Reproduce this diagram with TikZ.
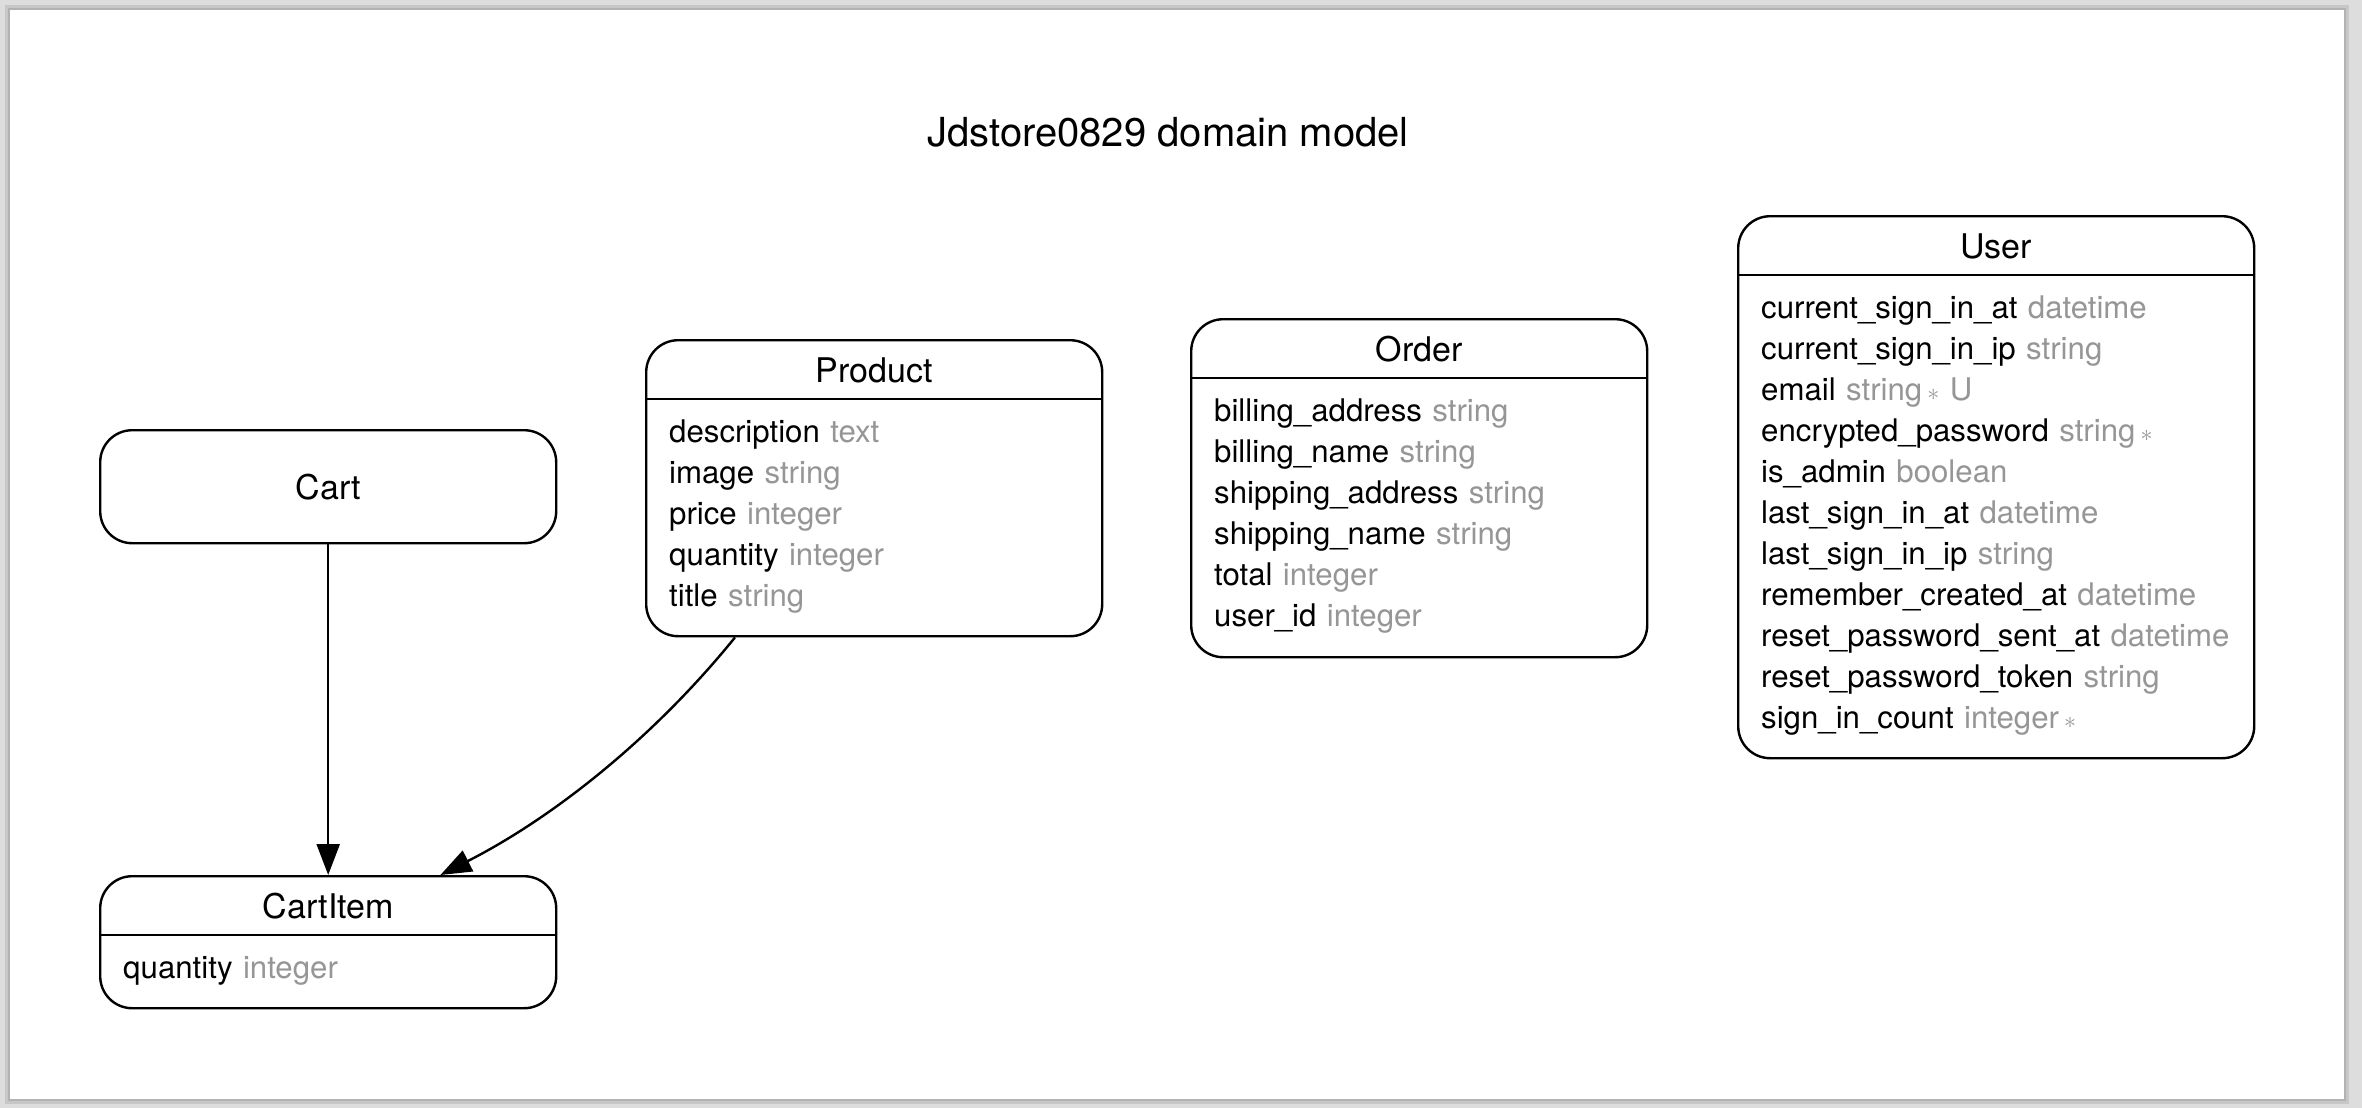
\documentclass[tikz,border=0pt]{standalone}
\usepackage{fontspec}
\setmainfont{TeX Gyre Heros}
\usetikzlibrary{positioning, arrows.meta}

\definecolor{typegray}{RGB}{150,150,150}
\definecolor{deskgray}{RGB}{221,221,221}
\definecolor{shadegray}{RGB}{178,178,178}

\newcommand{\attrtype}[1]{\textcolor{typegray}{#1}}
\newcommand{\notnull}{\textcolor{typegray}{\,{\fontsize{13}{13}\selectfont$\ast$}}}

\begin{document}
\begin{tikzpicture}[x = 0.5pt, y = -0.5pt, line width = 1.2pt, >={Triangle[length = 15.5pt, width = 11.5pt]},
    entity/.style = { draw, rounded corners = 16pt, anchor = north west, minimum width = 228pt },
    entityname/.style = { anchor = base, inner sep = 0pt, font = \fontsize{17}{20}\selectfont },
    attrs/.style = { anchor = base west, inner sep = 0pt, text width = 240pt, align = left, font = \fontsize{15.6}{20.5}\selectfont }]
    % page
    \fill[deskgray] (0, 0) rectangle (2362, 1108);
    \fill[shadegray!50!deskgray] (5, 5) rectangle (2349, 1104);
    \fill[shadegray] (8, 8) rectangle (2346, 1101);
    \fill[white] (10, 10) rectangle (2344, 1099);
    \useasboundingbox (0, 0) rectangle (2362, 1108);

    \node[anchor = base, font = \fontsize{20}{24}\selectfont] (title) at (1168, 146) {Jdstore0829 domain model};

    \node[entity, minimum height = 56.5pt, font = \fontsize{17}{20}\selectfont] (cart) at (99, 429) {Cart};
    \node[entity, minimum height = 66pt] (cartitem) at (99, 875) {};
    \node[entity, minimum height = 148pt] (product) at (645, 339) {};
    \node[entity, minimum height = 169pt] (order) at (1190, 318) {};
    \node[entity, minimum height = 271pt, minimum width = 258pt] (user) at (1737, 215) {};

    \node[entityname] (cartitem-name) at ([yshift = -21.5pt] cartitem.north) {CartItem};
    \draw ([yshift = -30pt] cartitem.north west) -- ([yshift = -30pt] cartitem.north east);
    \node[attrs] (cartitem-attrs) at ([xshift = 11.5pt, yshift = -51.5pt] cartitem.north west) {quantity \attrtype{integer}};

    \node[entityname] (product-name) at ([yshift = -21.5pt] product.north) {Product};
    \draw ([yshift = -30pt] product.north west) -- ([yshift = -30pt] product.north east);
    \node[attrs] (product-attrs) at ([xshift = 11.5pt, yshift = -51.5pt] product.north west) {description \attrtype{text}\\ image \attrtype{string}\\ price \attrtype{integer}\\ quantity \attrtype{integer}\\ title \attrtype{string}};

    \node[entityname] (order-name) at ([yshift = -21.5pt] order.north) {Order};
    \draw ([yshift = -30pt] order.north west) -- ([yshift = -30pt] order.north east);
    \node[attrs] (order-attrs) at ([xshift = 11.5pt, yshift = -51.5pt] order.north west) {billing\_address \attrtype{string}\\ billing\_name \attrtype{string}\\ shipping\_address \attrtype{string}\\ shipping\_name \attrtype{string}\\ total \attrtype{integer}\\ user\_id \attrtype{integer}};

    \node[entityname] (user-name) at ([yshift = -21.5pt] user.north) {User};
    \draw ([yshift = -30pt] user.north west) -- ([yshift = -30pt] user.north east);
    \node[attrs] (user-attrs) at ([xshift = 11.5pt, yshift = -51.5pt] user.north west) {current\_sign\_in\_at \attrtype{datetime}\\ current\_sign\_in\_ip \attrtype{string}\\ email \attrtype{string}\notnull{} \attrtype{U}\\ encrypted\_password \attrtype{string}\notnull\\ is\_admin \attrtype{boolean}\\ last\_sign\_in\_at \attrtype{datetime}\\ last\_sign\_in\_ip \attrtype{string}\\ remember\_created\_at \attrtype{datetime}\\ reset\_password\_sent\_at \attrtype{datetime}\\ reset\_password\_token \attrtype{string}\\ sign\_in\_count \attrtype{integer}\notnull};

    \draw[->] (cart) -- (cartitem);
    \draw[->] ([xshift = 45pt] product.south west) .. controls +(-80.5, 99.5) and +(114, -58) .. ([xshift = -58.5pt] cartitem.north east);
\end{tikzpicture}
\end{document}
